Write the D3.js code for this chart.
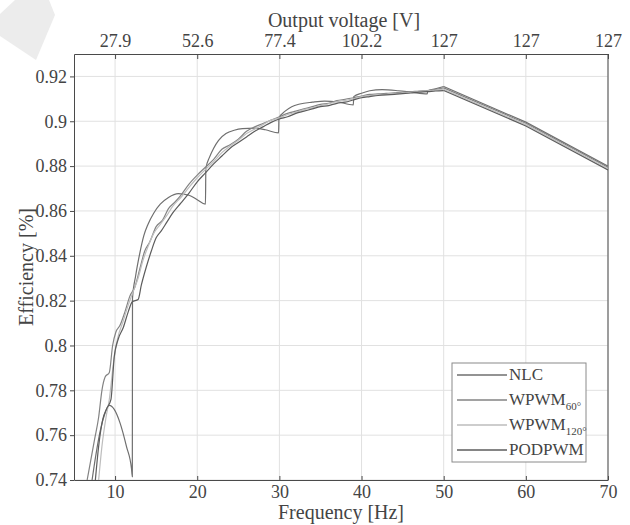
<!DOCTYPE html>
<html>
<head>
<meta charset="utf-8">
<script src="https://cdn.jsdelivr.net/npm/d3@7"></script>
<style>
  body { margin: 0; background: #fff; }
  svg text { font-family: "Liberation Serif", "Times New Roman", Times, serif; fill: #444; }
</style>
</head>
<body>
<svg id="chart"></svg>
<script>
// frequency ticks and the matching output voltage labels on the top axis
const freqTicks = [10, 20, 30, 40, 50, 60, 70]
const voltLabels = ["27.9", "52.6", "77.4", "102.2", "127", "127", "127"]
const effTicks = [0.74, 0.76, 0.78, 0.8, 0.82, 0.84, 0.86, 0.88, 0.9, 0.92]

const seriesNames = ["NLC", "WPWM60", "WPWM120", "PODPWM"]

// [frequency Hz, efficiency] up to 50 Hz
const nlc = [[7.2,0.74],[7.7,0.752],[8.2,0.762],[8.7,0.769],[9.3,0.7733],[9.9,0.7715],[10.6,0.7655],[11.4,0.7548],[12.0,0.745],[12.1,0.7415],
  [12.12,0.821],[12.5,0.831],[13,0.841],[13.5,0.849],[14,0.854],[14.7,0.859],[15.5,0.863],[16.5,0.866],[17.7,0.8677],[19,0.867],[20,0.865],[21,0.863],
  [21.05,0.879],[21.5,0.884],[22,0.888],[22.6,0.8915],[23.5,0.8945],[24.5,0.896],[25.5,0.8967],[27,0.8969],[28.3,0.8962],[29.9,0.8948],
  [29.95,0.9015],[30.7,0.9045],[31.5,0.9065],[32.5,0.9077],[34,0.9085],[35.5,0.909],[37,0.9087],[39,0.9073],
  [39.05,0.911],[40,0.9125],[41,0.9136],[42.5,0.9141],[44.5,0.9136],[46,0.913],[48,0.9122],[48.05,0.9135],[49,0.9145],[50,0.9155]]

const wpwm60 = [[6.6,0.74],[7.0,0.748],[7.5,0.758],[8.0,0.768],[8.4,0.780],[8.8,0.786],[9.3,0.788],[9.7,0.800],[10.1,0.806],[10.6,0.809],[11.2,0.815],[11.8,0.822],
  [12.4,0.826],[13,0.834],[13.6,0.842],[14.2,0.846],[15,0.853],[15.8,0.856],[16.5,0.861],[17.3,0.864],[18,0.867],[19,0.872],[20,0.876],[21,0.8795],[22,0.883],
  [23,0.8875],[24,0.8895],[25,0.892],[26,0.8955],[27,0.8975],[28,0.899],[29,0.9005],[30,0.902],[31,0.9035],[32,0.9045],[33,0.9055],[34,0.9065],[35,0.9075],
  [36,0.908],[37,0.9092],[38,0.9098],[39,0.9105],[40,0.9112],[41,0.912],[42,0.9122],[43,0.9124],[44,0.9127],[45,0.913],[46,0.9132],[47,0.9135],[48,0.9137],
  [49,0.9142],[50,0.9149]]

const wpwm120 = [[8.0,0.74],[8.4,0.755],[8.9,0.768],[9.3,0.776],[9.8,0.792],[10.3,0.803],[11,0.811],[11.6,0.818],[12.2,0.824],[12.8,0.830],[13.4,0.838],[14,0.844],
  [14.7,0.850],[15.5,0.854],[16.3,0.858],[17,0.862],[18,0.866],[19,0.8705],[20,0.8748],[21,0.8785],[22,0.882],[23,0.886],[24,0.889],[25,0.8915],[26,0.8945],
  [27,0.8965],[28,0.8985],[29,0.9005],[30,0.9015],[31,0.903],[32,0.904],[33,0.9052],[34,0.906],[35,0.907],[36,0.9078],[37,0.9088],[38,0.9093],[39,0.91],
  [40,0.911],[41,0.9115],[42,0.9118],[43,0.912],[44,0.9123],[45,0.9126],[46,0.9129],[47,0.9132],[48,0.9135],[49,0.9139],[50,0.9143]]

const podpwm = [[7.6,0.74],[8.0,0.755],[8.5,0.767],[9.0,0.772],[9.5,0.776],[9.9,0.795],[10.4,0.803],[11,0.808],[11.6,0.815],[12.1,0.8195],[12.8,0.8205],[13.2,0.827],
  [13.8,0.835],[14.4,0.842],[15,0.848],[15.6,0.851],[16.3,0.855],[17,0.859],[18,0.8635],[19,0.868],[20,0.873],[21,0.877],[22,0.881],[23,0.8845],[24,0.888],
  [25,0.8905],[26,0.893],[27,0.8955],[28,0.8975],[29,0.8995],[30,0.901],[31,0.902],[32,0.9035],[33,0.9045],[34,0.9055],[35,0.9065],[36,0.907],[37,0.908],
  [38,0.9085],[39,0.9095],[40,0.9105],[41,0.911],[42,0.9115],[43,0.9118],[44,0.912],[45,0.9123],[46,0.9126],[47,0.913],[48,0.9132],[49,0.9135],[50,0.9137]]

// straight fall-off above 50 Hz (rated voltage reached)
const nlcTail = [[50,0.9155],[60,0.8996],[70,0.8800]]
const wpwm60Tail = [[50,0.9149],[60,0.8991],[70,0.8795]]
const wpwm120Tail = [[50,0.9143],[60,0.8985],[70,0.8789]]
const podpwmTail = [[50,0.9137],[60,0.8979],[70,0.8783]]

const colors = ["#6f6f6f", "#838383", "#bdbdbd", "#5c5c5c"]

const w = 630
const h = 525
const padLeft = 74
const padRight = 608
const padTop = 54
const padBottom = 480
const serif = "'Liberation Serif', 'Times New Roman', Times, serif"

const svg = d3.select("#chart")
    .attr("width", w)
    .attr("height", h)
    .attr("font-family", serif)

// faded corner mark
svg.append("polygon")
    .attr("points", "15,0 49,0 55,15 36,60 0,36 0,14")
    .attr("fill", "#ececec")

const x = d3.scaleLinear().domain([5, 70]).range([padLeft, padRight])
const y = d3.scaleLinear().domain([0.74, 0.93]).range([padBottom, padTop])

//grid
svg.append("g").selectAll("line")
    .data(freqTicks)
    .enter().append("line")
    .attr("x1", d => x(d)).attr("x2", d => x(d))
    .attr("y1", padTop).attr("y2", padBottom)
    .attr("stroke", "#e1e1e1")
svg.append("g").selectAll("line")
    .data(effTicks)
    .enter().append("line")
    .attr("x1", padLeft).attr("x2", padRight)
    .attr("y1", d => y(d)).attr("y2", d => y(d))
    .attr("stroke", "#e1e1e1")

//axes
const bottomAxis = d3.axisBottom(x).tickValues(freqTicks).tickSizeInner(-4).tickSizeOuter(0).tickPadding(5)
const topAxis = d3.axisTop(x).tickValues(freqTicks).tickSizeInner(-5).tickSizeOuter(0).tickPadding(7)
    .tickFormat((d, i) => voltLabels[i])
const leftAxis = d3.axisLeft(y).tickValues(effTicks).tickSizeInner(4).tickSizeOuter(0).tickPadding(3)
    .tickFormat(d => String(+d.toFixed(2)))

svg.append("g").attr("transform", `translate(0, ${padBottom})`).call(bottomAxis)
svg.append("g").attr("transform", `translate(0, ${padTop})`).call(topAxis)
svg.append("g").attr("transform", `translate(${padLeft}, 0)`).call(leftAxis)

svg.selectAll("g").attr("font-family", serif)
svg.selectAll(".tick text").attr("font-size", 18).attr("fill", "#444")
svg.selectAll(".domain, .tick line").attr("stroke", "#4a4a4a")

// right border
svg.append("line")
    .attr("x1", padRight).attr("x2", padRight).attr("y1", padTop).attr("y2", padBottom)
    .attr("stroke", "#4a4a4a")

//lines
const smooth = d3.line()
    .x(d => x(d[0]))
    .y(d => y(d[1]))
    .curve(d3.curveMonotoneX)
const straight = d3.line()
    .x(d => x(d[0]))
    .y(d => y(d[1]))

svg.append("clipPath").attr("id", "clip")
    .append("rect").attr("x", padLeft).attr("y", padTop).attr("width", padRight - padLeft).attr("height", padBottom - padTop)

const series = [nlc, wpwm60, wpwm120, podpwm]
const tails = [nlcTail, wpwm60Tail, wpwm120Tail, podpwmTail]
const plot = svg.append("g").attr("clip-path", "url(#clip)")
plot.selectAll("path.low")
    .data(series)
    .enter().append("path")
    .attr("class", "low")
    .attr("d", d => smooth(d))
    .attr("fill", "none")
    .attr("stroke", (d, i) => colors[i])
    .attr("stroke-width", 1.2)
plot.selectAll("path.tail")
    .data(tails)
    .enter().append("path")
    .attr("class", "tail")
    .attr("d", d => straight(d))
    .attr("fill", "none")
    .attr("stroke", (d, i) => colors[i])
    .attr("stroke-width", 1.2)

//axis titles
svg.append("text")
    .attr("x", 344).attr("y", 27)
    .attr("text-anchor", "middle").attr("font-size", 20)
    .text("Output voltage [V]")
svg.append("text")
    .attr("x", (padLeft + padRight) / 2).attr("y", 519)
    .attr("text-anchor", "middle").attr("font-size", 20)
    .text("Frequency [Hz]")
svg.append("text")
    .attr("transform", `translate(33, ${(padTop + padBottom) / 2}) rotate(-90)`)
    .attr("text-anchor", "middle").attr("font-size", 20)
    .text("Efficiency [%]")

//legend
const legend = svg.append("g").attr("transform", "translate(452, 363)")
legend.append("rect")
    .attr("width", 134).attr("height", 99)
    .attr("fill", "#fff").attr("stroke", "#8a8a8a")

const rowY = [12, 37, 62, 87]
seriesNames.forEach((name, i) => {
    legend.append("line")
        .attr("x1", 5).attr("x2", 55)
        .attr("y1", rowY[i]).attr("y2", rowY[i])
        .attr("stroke", colors[i]).attr("stroke-width", 1.5)
    const t = legend.append("text")
        .attr("x", 57).attr("y", rowY[i] + 5)
        .attr("font-size", 17).attr("fill", "#222")
    if (name.startsWith("WPWM")) {
        t.append("tspan").text("WPWM")
        t.append("tspan").attr("dy", 5).attr("font-size", 11).text(name.slice(4) + "°")
    } else {
        t.text(name)
    }
})
</script>
</body>
</html>
